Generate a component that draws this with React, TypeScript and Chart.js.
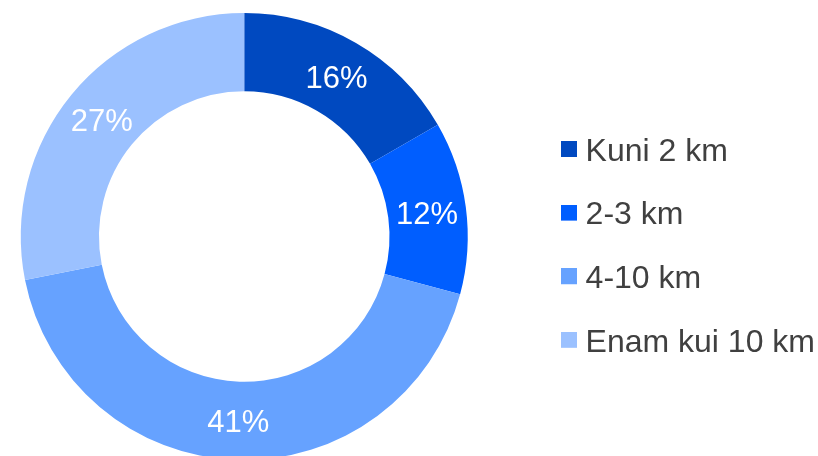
import React, { useEffect, useRef } from 'react';
import { Chart, registerables } from 'chart.js';

Chart.register(...registerables);

const categories = ['Kuni 2 km', '2-3 km', '4-10 km', 'Enam kui 10 km'];
const values = [16, 12, 41, 27];
const percentLabels = ['16%', '12%', '41%', '27%'];
const colors = ['#0049C0', '#005EFF', '#66A2FF', '#9BC1FF'];

const FONT = '"Liberation Sans", Arial, sans-serif';

function makeSwatch(color: string): HTMLCanvasElement {
  const c = document.createElement('canvas');
  c.width = 16;
  c.height = 22;
  const g = c.getContext('2d');
  if (g) {
    g.fillStyle = color;
    g.fillRect(0, 0, 16, 16);
  }
  return c;
}

const sliceLabelPlugin = {
  id: 'sliceLabels',
  afterDatasetsDraw(chart: any) {
    const ctx = chart.ctx;
    const meta = chart.getDatasetMeta(0);
    const size = 31;
    ctx.save();
    ctx.font = `${size}px ${FONT}`;
    ctx.fillStyle = '#ffffff';
    ctx.textAlign = 'center';
    ctx.textBaseline = 'alphabetic';
    meta.data.forEach((arc: any, i: number) => {
      const p = arc.tooltipPosition();
      ctx.fillText(percentLabels[i], p.x, p.y + size * 0.358);
    });
    ctx.restore();
  },
};

export default function App() {
  const ref = useRef<HTMLCanvasElement | null>(null);

  useEffect(() => {
    if (!ref.current) return;
    const swatches = colors.map(makeSwatch);
    const chart = new Chart(ref.current, {
      type: 'doughnut',
      data: {
        labels: categories,
        datasets: [
          {
            data: values,
            backgroundColor: colors,
            borderWidth: 0,
          },
        ],
      },
      options: {
        animation: false,
        responsive: true,
        maintainAspectRatio: false,
        cutout: '65%',
        layout: { padding: { top: 13, bottom: 0, left: 0, right: 0 } },
        plugins: {
          tooltip: { enabled: false },
          legend: {
            position: 'right',
            align: 'center',
            title: {
              display: true,
              text: '',
              font: { size: 1, lineHeight: 1 },
              padding: { top: 20.8, bottom: 0 },
            },
            labels: {
              usePointStyle: true,
              boxWidth: 0.5,
              boxHeight: 32,
              padding: 31.6,
              color: '#404040',
              font: { size: 32, family: FONT },
              generateLabels: (c: any) => {
                const base = (Chart as any).overrides.doughnut.plugins.legend.labels.generateLabels(c);
                return base.map((it: any, i: number) => ({
                  ...it,
                  pointStyle: swatches[i],
                  lineWidth: 0,
                }));
              },
            },
          },
        },
      },
      plugins: [sliceLabelPlugin],
    });
    return () => chart.destroy();
  }, []);

  return (
    <div style={{ position: 'fixed', left: 0, top: 0, width: 818, height: 456, overflow: 'hidden', background: '#ffffff' }}>
      <div style={{ position: 'absolute', left: -49, top: 0, width: 874, height: 460 }}>
        <canvas ref={ref} />
      </div>
    </div>
  );
}
